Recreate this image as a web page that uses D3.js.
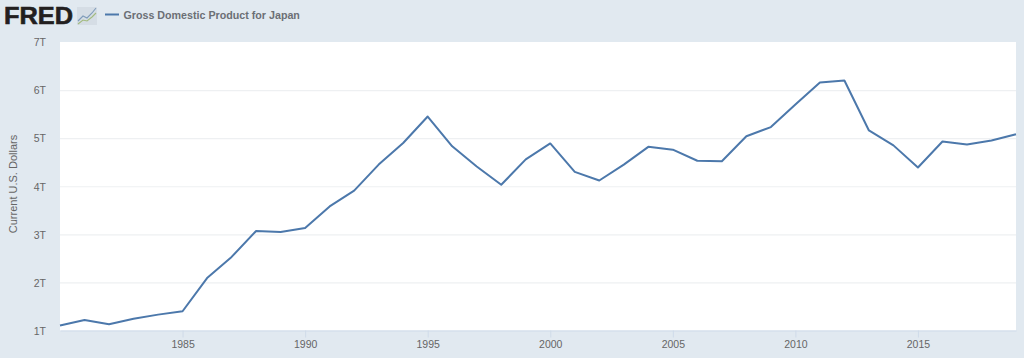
<!DOCTYPE html>
<html>
<head>
<meta charset="utf-8">
<script src="https://cdn.jsdelivr.net/npm/d3@7"></script>
<style>
html,body{margin:0;padding:0;background:#e1e9f0;overflow:hidden}
svg{display:block}
text{font-family:"Liberation Sans",Arial,sans-serif}
</style>
</head>
<body>
<script>
const years=[1980,1981,1982,1983,1984,1985,1986,1987,1988,1989,1990,1991,1992,1993,1994,1995,1996,1997,1998,1999,2000,2001,2002,2003,2004,2005,2006,2007,2008,2009,2010,2011,2012,2013,2014,2015,2016,2017,2018,2019];
const gdp=[1.105,1.22,1.13,1.245,1.33,1.40,2.09,2.53,3.07,3.05,3.13,3.58,3.91,4.45,4.90,5.45,4.83,4.41,4.03,4.56,4.89,4.30,4.12,4.45,4.82,4.76,4.53,4.52,5.04,5.23,5.70,6.16,6.20,5.16,4.85,4.39,4.93,4.87,4.95,5.08];
const xTicks=[1985,1990,1995,2000,2005,2010,2015];
const yTicks=[1,2,3,4,5,6,7];
const title="Gross Domestic Product for Japan";
const yLabel="Current U.S. Dollars";

const svg=d3.select("body").append("svg").attr("width",1024).attr("height",358);

const x=d3.scaleLinear().domain([1980,2019]).range([60,1016]);
const y=d3.scaleLinear().domain([1,7]).range([330.5,42]);

//白い描画エリア
svg.append("rect").attr("x",60).attr("y",42).attr("width",956).attr("height",288.5).attr("fill","#fff");

//横グリッド
const yAxis=svg.append("g").attr("transform","translate(60,0)")
  .call(d3.axisLeft(y).tickValues(yTicks).tickSize(-956).tickFormat(d=>d+"T"));
yAxis.select(".domain").remove();
yAxis.selectAll("line").attr("stroke","#eef0f2").attr("stroke-width",1.2);
yAxis.selectAll("line").filter(d=>d==1||d==7).remove();
yAxis.selectAll("text").attr("x",-14).attr("dy","0.36em")
  .style("font-size","10.5px").attr("fill","#666");

//x軸
const xAxis=svg.append("g").attr("transform","translate(0,330.5)")
  .call(d3.axisBottom(x).tickValues(xTicks).tickSize(7).tickSizeOuter(0).tickFormat(d3.format("d")));
xAxis.select(".domain").attr("stroke","#cfdbe9").attr("stroke-width",1);
xAxis.selectAll("line").attr("stroke","#cfdbe9");
xAxis.selectAll("text").attr("y",10).attr("dy","0.71em")
  .style("font-size","10.5px").attr("fill","#666");

//y軸ラベル
svg.append("text")
  .attr("transform","translate(17,184) rotate(-90)")
  .attr("text-anchor","middle")
  .style("font-size","11px")
  .attr("fill","#666")
  .text(yLabel);

//折れ線
const line=d3.line().x((d,i)=>x(years[i])).y(d=>y(d));
svg.append("path").datum(gdp)
  .attr("d",line)
  .attr("fill","none")
  .attr("stroke","#4c78ab")
  .attr("stroke-width",2)
  .attr("stroke-linejoin","round");

//FREDロゴ
svg.append("text")
  .attr("x",4).attr("y",24)
  .style("font-size","24px").style("font-weight","700")
  .attr("textLength",69).attr("lengthAdjust","spacingAndGlyphs")
  .attr("stroke","#231f20").attr("stroke-width",0.6)
  .attr("fill","#231f20")
  .text("FRED");

//ロゴのアイコン
const icon=svg.append("g").attr("transform","translate(77,7)");
icon.append("rect").attr("width",20).attr("height",18).attr("fill","#d5dde5");
icon.append("path").attr("d","M1 14L6 9L10 11L15 6L19 1").attr("fill","none").attr("stroke","#7f9cba").attr("stroke-width",1.1);
icon.append("path").attr("d","M1 17L6 13L10 14L15 10L19 6").attr("fill","none").attr("stroke","#a3bb7f").attr("stroke-width",1.1);

//凡例
svg.append("line").attr("x1",105).attr("x2",119).attr("y1",14.5).attr("y2",14.5)
  .attr("stroke","#4c78ab").attr("stroke-width",2);
svg.append("text")
  .attr("x",123.5).attr("y",18.5)
  .style("font-size","10.7px").style("font-weight","700")
  .attr("fill","#6b6f75")
  .text(title);
</script>
</body>
</html>
